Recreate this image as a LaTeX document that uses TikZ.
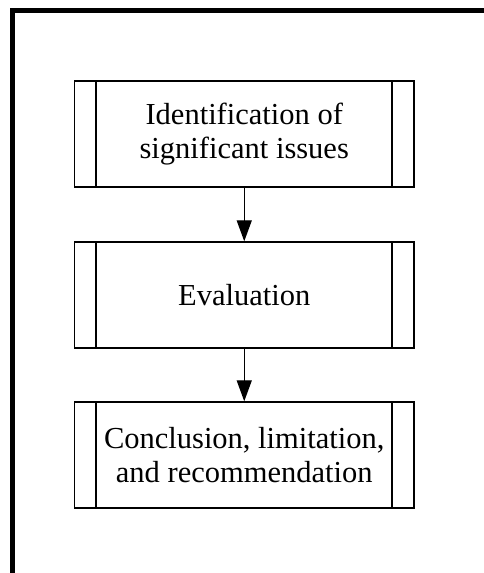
\documentclass[tikz,border=0pt]{standalone}
\usepackage{fontspec}
\setmainfont{Liberation Serif}
\usetikzlibrary{arrows.meta,positioning}
\begin{document}
\begin{tikzpicture}[x=1pt,y=1pt,
  procbox/.style={draw, line width=1.4pt, rectangle, inner sep=0pt,
    minimum width=339.5pt, minimum height=106pt, align=center,
    font=\fontsize{30.5}{34}\selectfont,
    path picture={
      \draw[line width=1.4pt]
        ([xshift=21.5pt]path picture bounding box.north west) --
        ([xshift=21.5pt]path picture bounding box.south west);
      \draw[line width=1.4pt]
        ([xshift=-22pt]path picture bounding box.north east) --
        ([xshift=-22pt]path picture bounding box.south east);
    }},
  flow/.style={line width=1.4pt, -{Triangle[length=21pt,width=15pt]}}]
  \useasboundingbox (0,0) rectangle (484,573);
  % heavy frame: left edge and top edge
  \draw[line width=5pt, line join=miter] (12.5,-5) -- (12.5,562) -- (490,562);
  % process steps
  \node[procbox] (ident) at (244.25,439) {Identification of\\significant issues};
  \node[procbox] (eval)  at (244.25,278) {Evaluation};
  \node[procbox] (concl) at (244.25,118) {Conclusion, limitation,\\and recommendation};
  % connectors
  \draw[flow] (ident) -- (eval);
  \draw[flow] (eval) -- (concl);
\end{tikzpicture}
\end{document}
